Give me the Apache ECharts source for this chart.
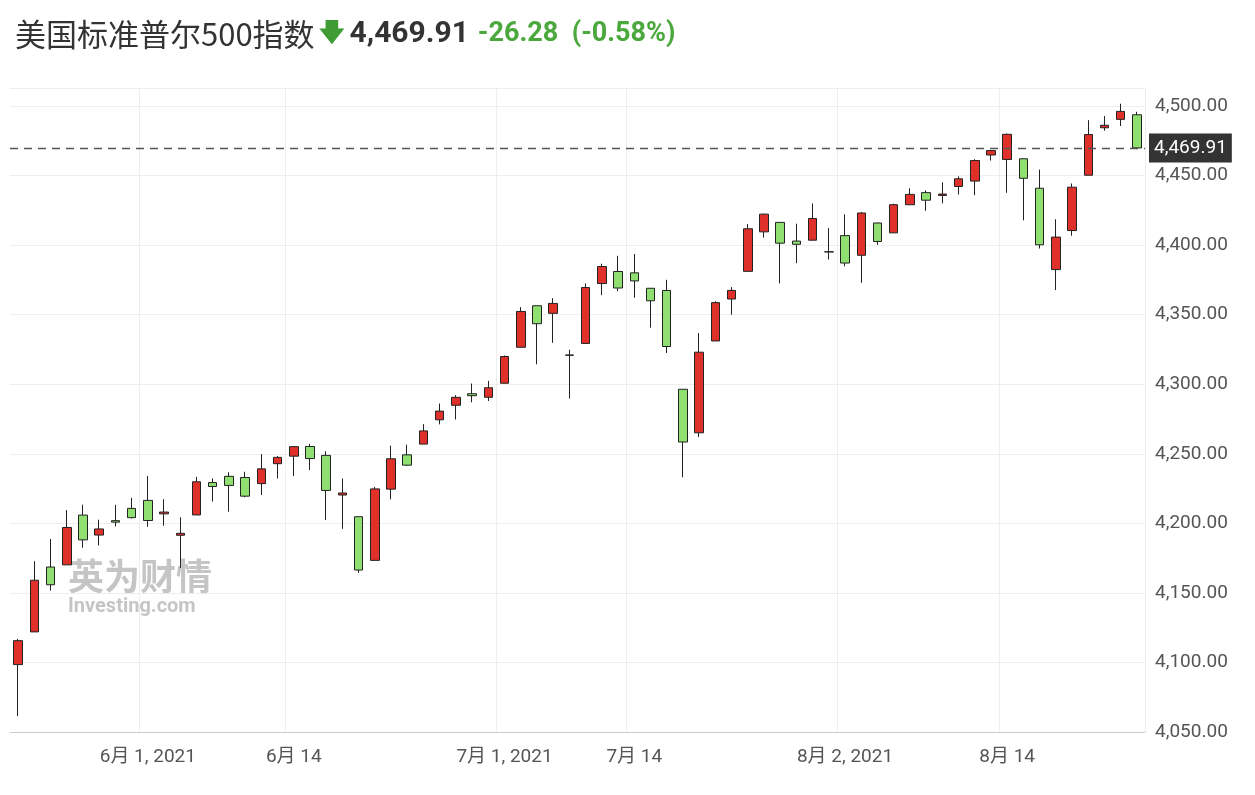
<!DOCTYPE html>
<html><head><meta charset="utf-8">
<script src="https://cdn.jsdelivr.net/npm/echarts@6/dist/echarts.min.js"></script>
<style>html,body{margin:0;background:#fff}#c{width:1255px;height:795px}</style>
</head><body><div id="c"></div>
<script>
// trading days, May 19 - Aug 26 2021
const dates = [
  '5/19','5/20','5/21','5/24','5/25','5/26','5/27','5/28',
  '6/1','6/2','6/3','6/4','6/7','6/8','6/9','6/10','6/11','6/14','6/15','6/16','6/17','6/18',
  '6/21','6/22','6/23','6/24','6/25','6/28','6/29','6/30',
  '7/1','7/2','7/6','7/7','7/8','7/9','7/12','7/13','7/14','7/15','7/16','7/19','7/20','7/21',
  '7/22','7/23','7/26','7/27','7/28','7/29','7/30',
  '8/2','8/3','8/4','8/5','8/6','8/9','8/10','8/11','8/12','8/13','8/16','8/17','8/18','8/19',
  '8/20','8/23','8/24','8/25','8/26'
]
// [open, close, low, high]
const ohlc = [
  [4098.45,4115.68,4061.41,4116.93],[4121.97,4159.12,4121.97,4172.80],[4168.61,4155.86,4151.72,4188.72],
  [4170.16,4197.05,4170.16,4209.52],[4205.94,4188.13,4182.52,4213.42],[4191.59,4195.99,4184.11,4202.61],
  [4201.94,4200.88,4197.78,4213.38],[4210.77,4204.11,4203.57,4218.36],[4216.52,4202.04,4197.59,4234.12],
  [4206.82,4208.12,4198.27,4217.37],[4191.43,4192.85,4167.93,4204.39],[4206.05,4229.89,4206.05,4233.45],
  [4229.34,4226.52,4215.66,4232.34],[4233.81,4227.26,4208.41,4236.74],[4232.99,4219.55,4218.74,4237.09],
  [4228.56,4239.18,4220.34,4249.74],[4242.90,4247.44,4232.25,4248.38],[4248.31,4255.15,4234.07,4255.59],
  [4255.28,4246.59,4238.35,4257.16],[4248.87,4223.70,4202.45,4251.89],[4220.37,4221.86,4196.05,4232.29],
  [4204.78,4166.45,4164.40,4204.78],[4173.40,4224.79,4173.40,4226.24],[4224.61,4246.44,4217.27,4255.84],
  [4249.27,4241.84,4241.43,4256.60],[4256.97,4266.49,4256.97,4271.28],[4274.45,4280.70,4271.16,4286.12],
  [4284.90,4290.61,4274.67,4292.14],[4293.21,4291.80,4287.04,4300.52],[4290.65,4297.50,4287.96,4302.43],
  [4300.73,4319.94,4300.73,4320.66],[4326.60,4352.34,4326.60,4355.43],[4356.46,4343.54,4314.37,4356.46],
  [4351.01,4358.13,4329.79,4361.88],[4321.07,4320.82,4289.67,4324.81],[4329.38,4369.55,4329.38,4372.51],
  [4372.41,4384.63,4364.03,4386.68],[4381.07,4369.21,4366.92,4392.37],[4380.11,4374.30,4362.18,4393.68],
  [4369.02,4360.03,4340.70,4369.02],[4367.43,4327.16,4322.53,4375.09],[4296.40,4258.49,4233.13,4296.40],
  [4265.11,4323.06,4262.05,4336.84],[4331.13,4358.69,4331.13,4359.70],[4361.27,4367.48,4350.06,4369.87],
  [4381.20,4411.79,4381.20,4415.18],[4409.58,4422.30,4405.45,4422.73],[4416.38,4401.46,4372.51,4416.38],
  [4402.95,4400.64,4387.01,4415.47],[4403.59,4419.15,4403.59,4429.97],[4395.12,4395.26,4389.65,4412.25],
  [4406.86,4387.16,4384.81,4422.18],[4392.74,4423.15,4373.00,4423.79],[4415.95,4402.66,4400.23,4416.17],
  [4408.86,4429.10,4408.86,4429.76],[4429.07,4436.52,4429.07,4440.82],[4437.77,4432.35,4424.74,4439.39],
  [4435.79,4436.75,4430.03,4445.21],[4442.18,4447.70,4436.42,4449.44],[4446.08,4460.83,4435.96,4461.77],
  [4464.84,4468.00,4460.82,4468.37],[4461.65,4479.71,4437.66,4480.26],[4462.12,4448.08,4417.83,4462.12],
  [4440.94,4400.27,4397.59,4454.32],[4382.44,4405.80,4367.73,4418.61],[4410.56,4441.67,4406.80,4444.35],
  [4450.29,4479.53,4450.29,4489.88],[4484.40,4486.23,4482.28,4492.81],[4490.45,4496.19,4485.66,4501.71],
  [4493.75,4469.91,4468.99,4495.90]
]
const tickLabels = { '6/1': '6月 1, 2021', '6/14': '6月 14', '7/1': '7月 1, 2021', '7/14': '7月 14', '8/2': '8月 2, 2021', '8/16': '8月 14' }
const lastPrice = 4469.91

const showTick = (i, v) => v in tickLabels
const fmt = v => v.toLocaleString('en-US', { minimumFractionDigits: 2, maximumFractionDigits: 2 })

const chart = echarts.init(document.getElementById('c'))
chart.setOption({
  animation: false,
  textStyle: { fontFamily: 'Roboto, "Noto Sans CJK SC", sans-serif' },
  title: {
    left: 10, top: 14,
    text: '{n|美国标准普尔500指数} {a|🡇} {p|4,469.91}  {d|-26.28  (-0.58%)}',
    textStyle: {
      rich: {
        n: { fontSize: 31, color: '#333', fontWeight: 'normal', fontFamily: '"Noto Sans CJK SC", sans-serif' },
        a: { fontSize: 25, color: '#3f9c35', fontWeight: 'bold' },
        p: { fontSize: 30, color: '#333', fontWeight: 'bold' },
        d: { fontSize: 27, color: '#4aa83c', fontWeight: 'bold' }
      }
    }
  },
  graphic: [
    { type: 'text', left: 68, top: 558, silent: true,
      style: { text: '英为财情', fill: 'rgba(110,110,110,0.4)', font: 'bold 36px "Noto Sans CJK SC"' } },
    { type: 'text', left: 68, top: 597, silent: true,
      style: { text: 'Investing.com', fill: 'rgba(110,110,110,0.4)', font: 'bold 20px Roboto' } }
  ],
  grid: { left: 10, right: 110, top: 88, bottom: 63 },
  xAxis: {
    type: 'category', data: dates, boundaryGap: true,
    axisLine: { lineStyle: { color: '#ccc' } },
    axisTick: { show: false },
    axisLabel: { interval: showTick, formatter: v => tickLabels[v] || '', color: '#555', fontSize: 19, margin: 16 },
    splitLine: { show: true, interval: showTick, lineStyle: { color: '#eee' } }
  },
  yAxis: {
    type: 'value', position: 'right', min: 4050, max: 4513, interval: 50, scale: true,
    axisLine: { show: false }, axisTick: { show: false },
    axisLabel: { showMaxLabel: false, formatter: fmt, color: '#555', fontSize: 19, margin: 10 },
    splitLine: { lineStyle: { color: '#eee' } }
  },
  series: [{
    type: 'candlestick', data: ohlc, barWidth: 9,
    itemStyle: { color: '#e0302a', color0: '#8fe070', borderColor: '#222', borderColor0: '#222', borderWidth: 1 },
    markLine: {
      symbol: 'none', silent: true,
      lineStyle: { color: '#555', type: [8, 6], width: 1.3 },
      label: {
        position: 'end', formatter: () => fmt(lastPrice), color: '#fff', backgroundColor: '#333',
        fontSize: 19, padding: [5, 5], distance: 4
      },
      data: [{ yAxis: lastPrice }]
    }
  }]
})
</script></body></html>
